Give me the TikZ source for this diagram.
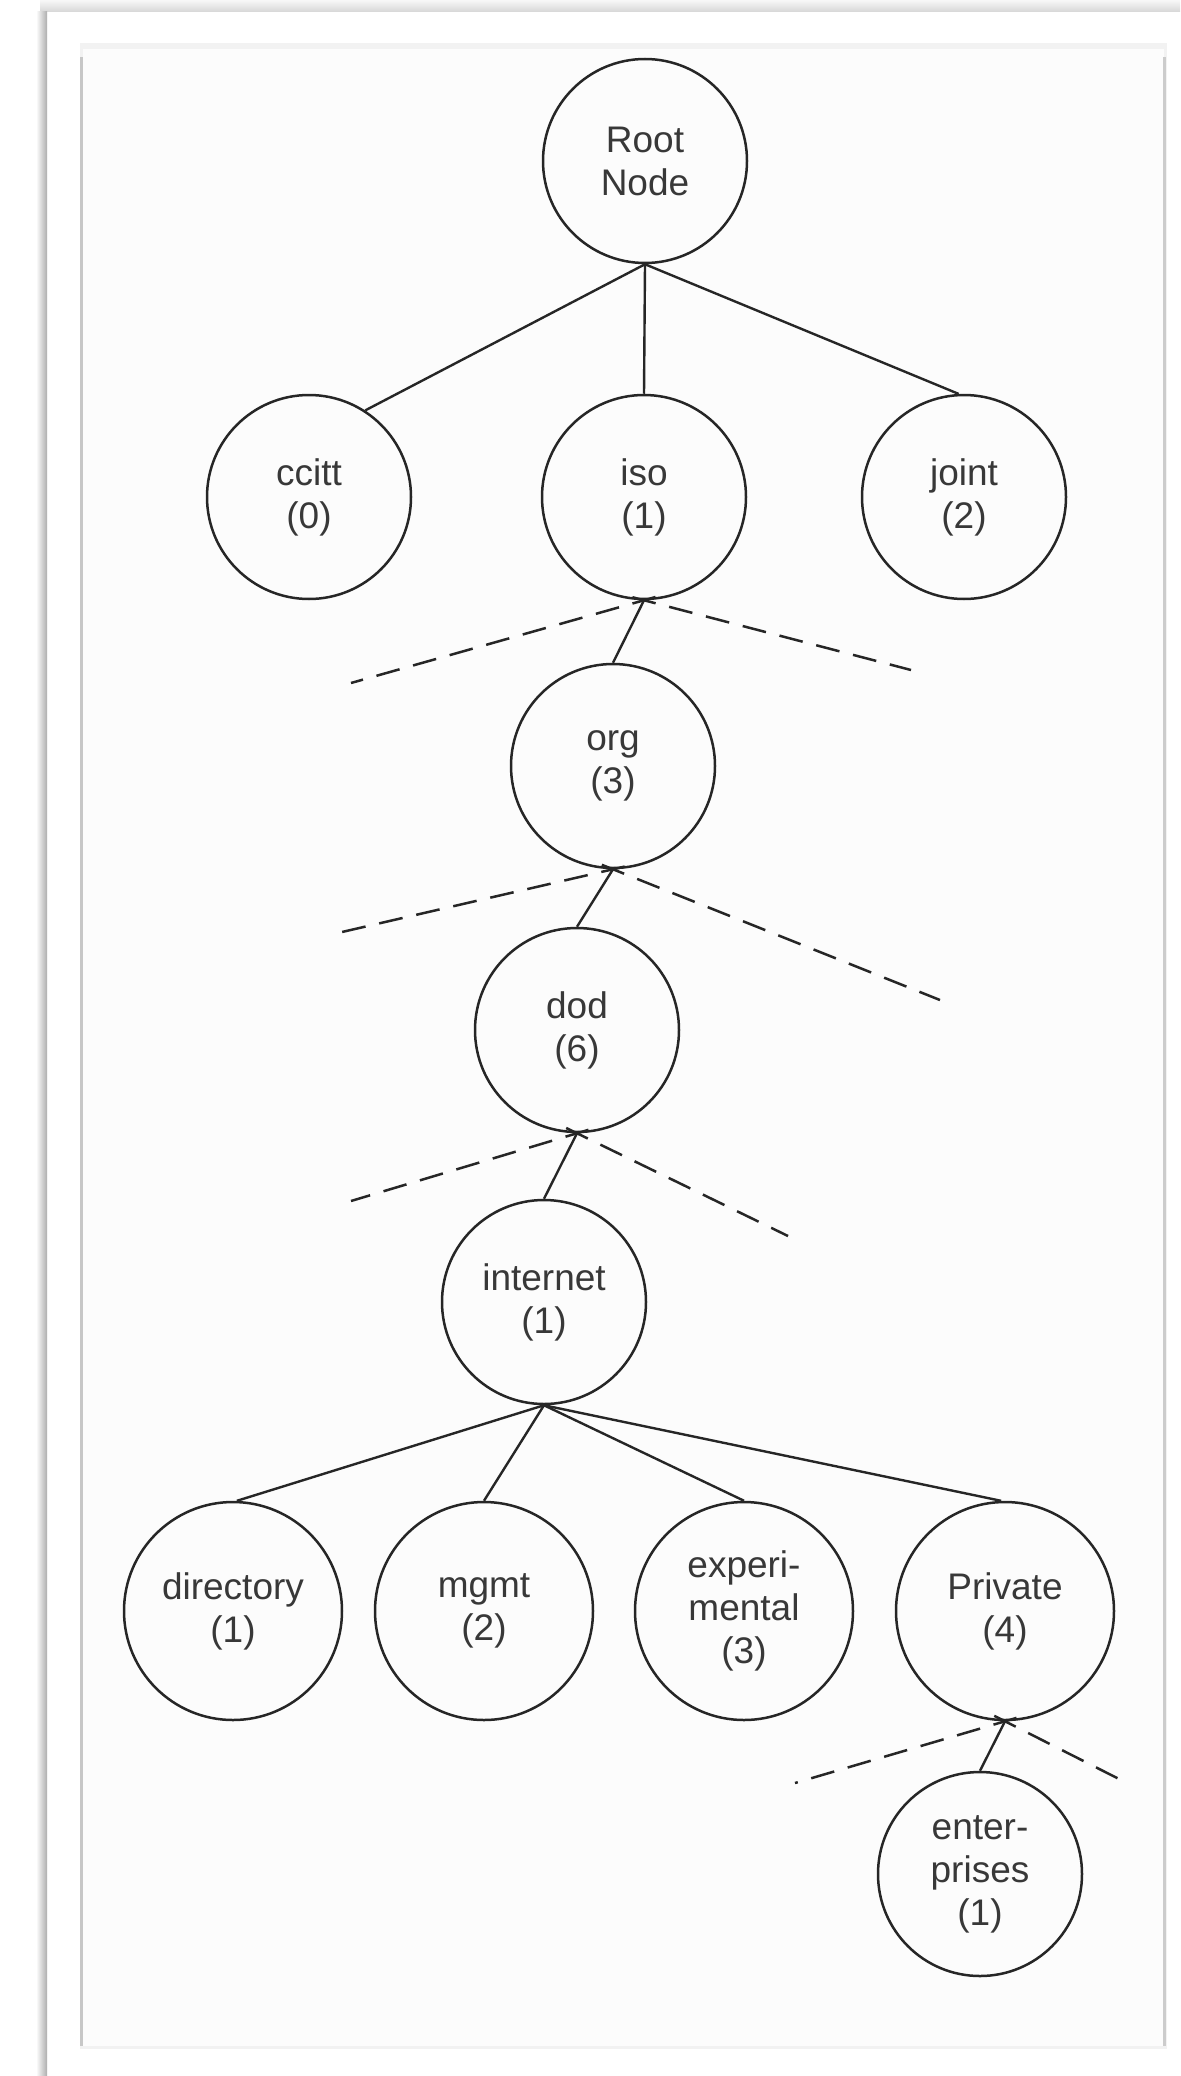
\documentclass[tikz,border=0pt]{standalone}
\usepackage{fontspec}
\setmainfont{Liberation Sans}
\begin{document}
\begin{tikzpicture}[x=0.5pt,y=-0.5pt,
  tnode/.style={circle,draw=black!85,line width=1.25pt,minimum size=102pt,inner sep=0pt,
    align=center,font=\fontsize{18.5}{21.5}\selectfont,text=black!78},
  bignode/.style={tnode,minimum size=109pt},
  link/.style={draw=black!85,line width=1.2pt},
  branch/.style={draw=black!85,line width=1.25pt,dash pattern=on 12pt off 7pt,shorten <=-6pt}]
\useasboundingbox (0,0) rectangle (1180,2076);
% page and shadows
\fill[white] (0,0) rectangle (1180,2076);
\shade[top color=black!3, bottom color=black!16] (40,0) rectangle (1180,12);
\shade[left color=white, right color=black!32] (36,12) rectangle (47,2076);
% inner panel
\fill[black!5] (80,43) rectangle (1167,2049);
\fill[black!1] (83,49) rectangle (1164,2046);
\fill[black!22] (80,57) rectangle (83,2046);
\fill[black!20] (1163,57) rectangle (1166,2046);
% nodes
\node[tnode] (root) at (645,161) {Root\\Node};
\node[tnode] (ccitt) at (309,497) {ccitt\\(0)};
\node[tnode] (iso) at (644,497) {iso\\(1)};
\node[tnode] (joint) at (964,497) {joint\\(2)};
\node[tnode] (org) at (613,766) {org\\(3)};
\node[tnode] (dod) at (577,1030) {dod\\(6)};
\node[tnode] (internet) at (544,1302) {internet\\(1)};
\node[bignode] (directory) at (233,1611) {directory\\(1)};
\node[bignode] (mgmt) at (484,1611) {mgmt\\(2)};
\node[bignode] (experimental) at (744,1611) {experi-\\mental\\(3)};
\node[bignode] (private) at (1005,1611) {Private\\(4)};
\node[tnode] (enterprises) at (980,1874) {enter-\\prises\\(1)};
% free ends of the dashed branches
\coordinate (isoL) at (351,683);
\coordinate (isoR) at (911,670);
\coordinate (orgL) at (342,932);
\coordinate (orgR) at (940,1000);
\coordinate (dodL) at (351,1201);
\coordinate (dodR) at (788,1236);
\coordinate (privL) at (795,1783);
\coordinate (privR) at (1123,1781);
% solid links
\draw[link] (root.south) -- (ccitt.57);
\draw[link] (root.south) -- (iso.north);
\draw[link] (root.south) -- (joint.93);
\draw[link] (iso.south) -- (org.north);
\draw[link] (org.south) -- (dod.north);
\draw[link] (dod.south) -- (internet.north);
\draw[link] (internet.south) -- (directory.88);
\draw[link] (internet.south) -- (mgmt.north);
\draw[link] (internet.south) -- (experimental.north);
\draw[link] (internet.south) -- (private.92);
\draw[link] (private.south) -- (enterprises.north);
% dashed branches
\draw[branch] (iso.south) -- (isoL);
\draw[branch] (iso.south) -- (isoR);
\draw[branch] (org.south) -- (orgL);
\draw[branch] (org.south) -- (orgR);
\draw[branch] (dod.south) -- (dodL);
\draw[branch] (dod.south) -- (dodR);
\draw[branch] (private.south) -- (privL);
\draw[branch] (private.south) -- (privR);
\end{tikzpicture}
\end{document}
